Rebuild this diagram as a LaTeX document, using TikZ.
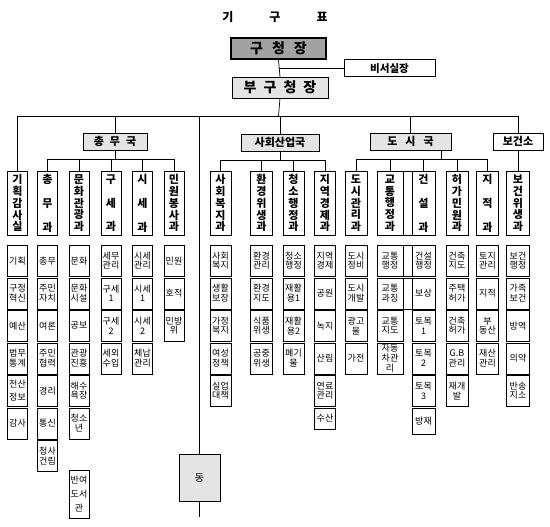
\documentclass[tikz,border=0pt]{standalone}
\usepackage{fontspec}
\setmainfont{Noto Sans CJK KR}
\usetikzlibrary{positioning,shadows}
\definecolor{chiefgray}{HTML}{A2A2A2}
\definecolor{paleGray}{HTML}{E4E4E4}

\begin{document}
\begin{tikzpicture}[
    x=1pt, y=-1pt,
    every node/.style={inner sep=0pt, align=center},
    boxshadow/.style={drop shadow={shadow xshift=0.9pt, shadow yshift=-0.9pt, fill=black!45, opacity=1}},
    chief/.style={draw, line width=1.6pt, fill=chiefgray, minimum width=95pt, minimum height=21pt, font=\bfseries\fontsize{14}{14}\selectfont},
    vice/.style={draw, fill=paleGray, boxshadow, minimum width=96pt, minimum height=21pt, font=\bfseries\fontsize{14}{14}\selectfont},
    secr/.style={draw, line width=1pt, fill=white, minimum width=91pt, minimum height=17pt, font=\bfseries\fontsize{10.5}{10.5}\selectfont},
    bureau/.style={draw, fill=paleGray, boxshadow, minimum height=17pt, font=\bfseries\fontsize{11}{11}\selectfont},
    dept/.style={draw, fill=white, boxshadow, anchor=north, minimum height=64pt, font=\bfseries\fontsize{11}{11.8}\selectfont},
    item/.style={draw, fill=white, boxshadow, anchor=north, minimum height=31pt, font=\fontsize{9}{9.8}\selectfont},
    link/.style={line width=0.7pt}
]
\useasboundingbox (0,0) rectangle (550,527);

% top of the chart
\node[font=\bfseries\fontsize{12}{12}\selectfont] (title) at (275,17) {기\hspace{36pt}구\hspace{36pt}표};
\node[chief] (gu) at (278.5,48.5) {구\hspace{9pt}청\hspace{9pt}장};
\node[vice] (bugu) at (280,87.5) {부\hspace{7pt}구\hspace{7pt}청\hspace{7pt}장};
\node[secr] (biseo) at (389.5,68.5) {비서실장};

% bureaus
\node[bureau, minimum width=64pt] (chongmu) at (115,141.5) {총\hspace{6pt}무\hspace{6pt}국};
\node[bureau, minimum width=78pt] (sahoe) at (280,142.5) {사회산업국};
\node[bureau, minimum width=81pt] (dosi) at (410.5,141.5) {도\hspace{8pt}시\hspace{8pt}국};
\node[bureau, minimum width=50pt, fill=white] (bogeonso) at (518,141.5) {보건소};

% departments and their sections
\foreach \n/\x/\w/\lab/\items in {
    plan/17.5/20/{기\\획\\감\\사\\실}/{기획,구정\\혁신,예산,법무\\통계,전산\\[3pt]정보,감사},
    chong/47.5/20/{총\\[12pt]무\\[12pt]과}/{총무,주민\\자치,여론,주민\\협력,경리,통신,청사\\건립},
    munhwa/79/20/{문\\화\\관\\광\\과}/{문화,문화\\시설,공보,관광\\진흥,해수\\욕장,청소\\년},
    guse/111/20/{구\\[12pt]세\\[12pt]과}/{세무\\관리,구세\\1,구세\\2,세외\\수입},
    sise/142.5/20/{시\\[12pt]세\\[12pt]과}/{시세\\관리,시세\\1,시세\\2,체납\\관리},
    minwon/174/20/{민\\원\\봉\\사\\과}/{민원,호적,민방\\위},
    bokji/220.5/21/{사\\회\\복\\지\\과}/{사회\\복지,생활\\보장,가정\\복지,여성\\정책,실업\\대책},
    hwangyeong/261.5/22/{환\\경\\위\\생\\과}/{환경\\관리,환경\\지도,식품\\위생,공중\\위생},
    cheongso/293.5/21/{청\\소\\행\\정\\과}/{청소\\행정,재활\\용1,재활\\용2,폐기\\물},
    jiyeok/325/21/{지\\역\\경\\제\\과}/{지역\\경제,공원,녹지,산림,연료\\관리},
    dosigwan/356/22/{도\\시\\관\\리\\과}/{도시\\정비,도시\\개발,광고\\물,가전},
    gyotong/390/26/{교\\통\\행\\정\\과}/{교통\\행정,교통\\과징,교통\\지도,자동\\차관\\리},
    geonseol/423.5/23/{건\\[12pt]설\\[12pt]과}/{건설\\행정,보상,토목\\1,토목\\2,토목\\3},
    heoga/457/22/{허\\가\\민\\원\\과}/{건축\\지도,주택\\허가,건축\\허가,G.B\\관리,재개\\발},
    jijeok/487.5/22/{지\\[12pt]적\\[12pt]과}/{토지\\관리,지적,부\\동산,재산\\관리},
    bogeonwi/518/23/{보\\건\\위\\생\\과}/{보건\\행정,가족\\보건,방역,의약,반송\\지소}%
}{
    \node[dept, minimum width=\w] (\n) at (\x,171) {\lab};
    \foreach \t [count=\i] in \items
        \node[item, minimum width=\w] (\n-\i) at (\x,{245+32.5*(\i-1)}) {\t};
}

% odd ones
\node[item, minimum width=20, minimum height=48] (munhwa-lib) at (79,470) {반여\\[4pt]도서\\[4pt]관};
\node[item, minimum width=21, minimum height=21] (jiyeok-6) at (325,407.5) {수산};
\node[item, minimum width=23, minimum height=26] (geonseol-6) at (423.5,407.5) {방재};
\node[draw, fill=white, anchor=north, minimum width=9, minimum height=64] (gap) at (407.5,171) {};
\node[draw, fill=white, anchor=north, minimum width=9, minimum height=31] (gap-1) at (407.5,245) {};
\node[draw, fill=white, anchor=north, minimum width=9, minimum height=31] (gap-2) at (407.5,277.5) {};

\node[draw, fill=paleGray, boxshadow, minimum width=41, minimum height=47, font=\fontsize{10}{10}\selectfont] (dong) at (199.5,477.5) {동};

% connectors
\coordinate (bus) at (278.5,116);
\coordinate (dongend) at (199.5,517);
\coordinate (cbus) at ([yshift=-9pt]chongmu.south);
\coordinate (sbus) at ([yshift=-9pt]sahoe.south);
\coordinate (dbus) at ([xshift=30.5pt,yshift=-9pt]dosi.south);

\draw[link] (gu.south) -- (bugu.north);
\draw[link] (biseo.west) -- (biseo.west -| gu.south);
\draw[link] (bugu.south) -- (bus);
\foreach \d in {plan,chongmu,dong,sahoe,dosi,bogeonso}
    \draw[link] (bus) -| (\d.north);
\draw[link] (dong.south) -- (dongend);

\draw[link] (chongmu.south) -- (cbus);
\foreach \d in {chong,munhwa,guse,sise,minwon}
    \draw[link] (cbus) -| (\d.north);
\draw[link] (sahoe.south) -- (sbus);
\foreach \d in {bokji,hwangyeong,cheongso,jiyeok}
    \draw[link] (sbus) -| (\d.north);
\draw[link] (dbus |- dosi.south) -- (dbus);
\foreach \d in {dosigwan,gyotong,geonseol,heoga,jijeok}
    \draw[link] (dbus) -| (\d.north);
\draw[link] (bogeonso.south) -- (bogeonwi.north);
\end{tikzpicture}
\end{document}
